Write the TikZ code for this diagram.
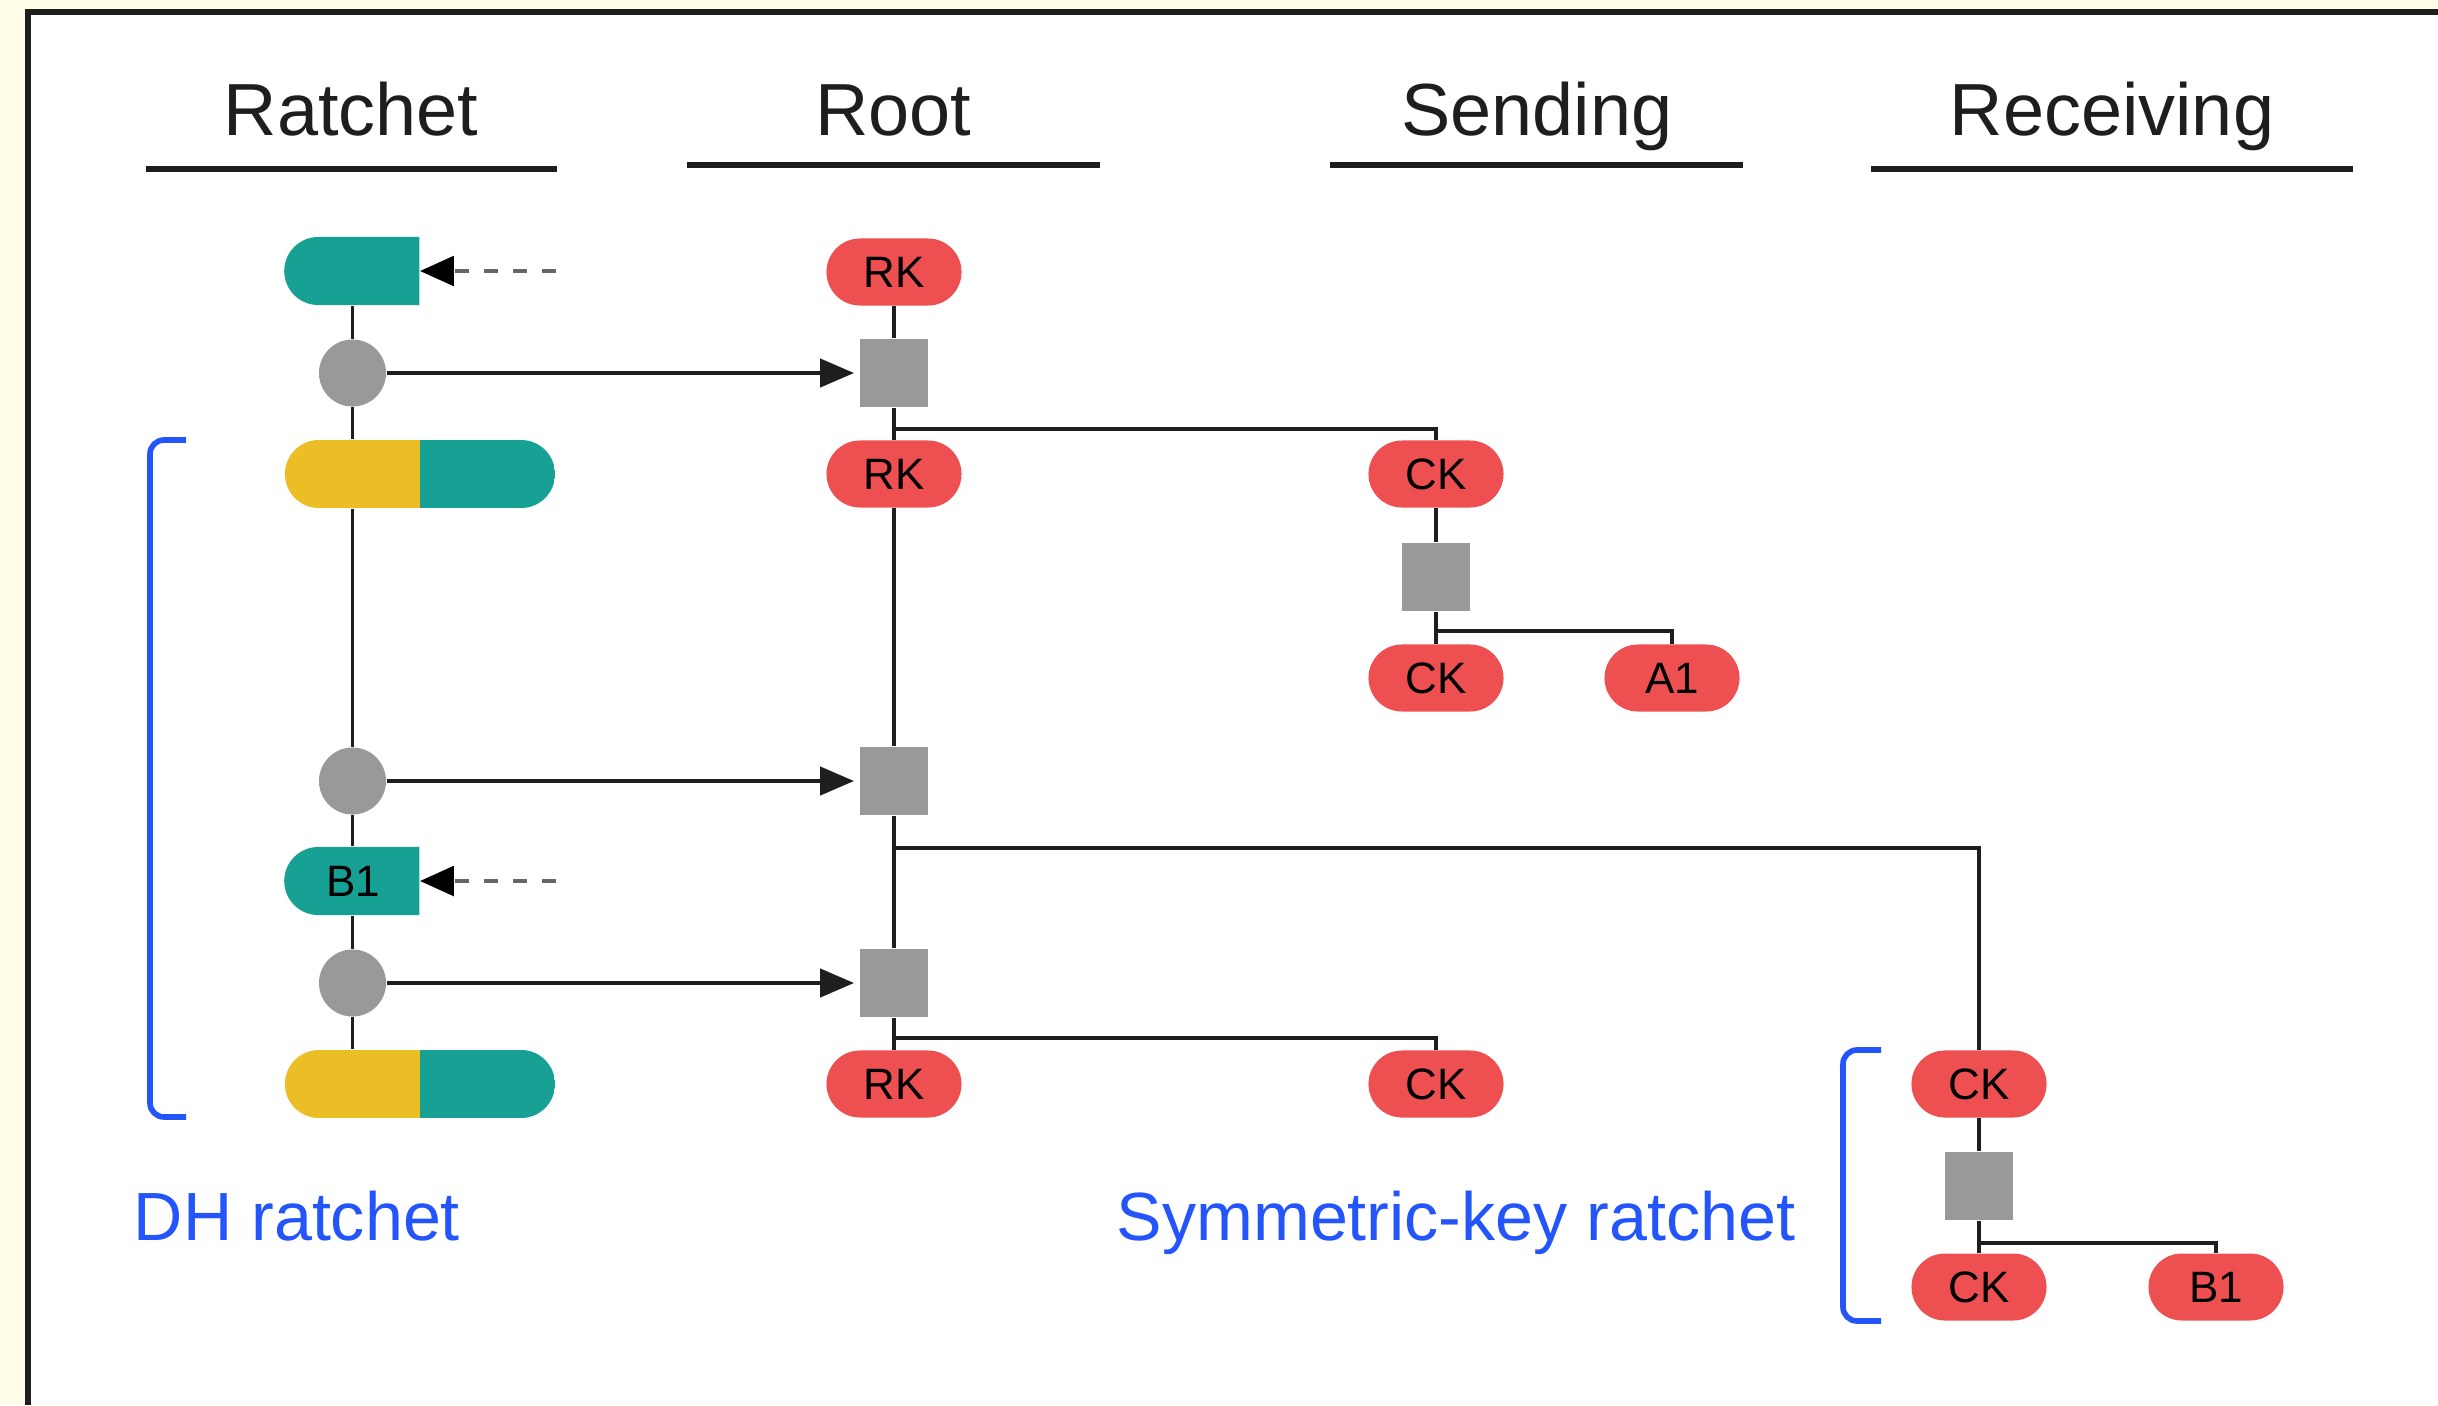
\documentclass[tikz,border=0pt]{standalone}
\usepackage{fontspec}
\setmainfont{Liberation Sans}
\usetikzlibrary{shapes.misc,arrows.meta}

\definecolor{tealk}{RGB}{22,161,148}
\definecolor{yellowk}{RGB}{235,190,38}
\definecolor{redk}{RGB}{238,80,82}
\definecolor{greyk}{RGB}{153,153,153}
\definecolor{bluek}{RGB}{35,85,250}
\definecolor{creamk}{RGB}{255,253,232}
\definecolor{inkk}{RGB}{30,30,30}

\begin{document}
\begin{tikzpicture}[x=0.01cm,y=-0.01cm,
  headfont/.style={font=\fontsize{21}{25}\selectfont},
  head/.style={headfont, text=inkk, inner sep=0pt, anchor=base},
  rule/.style={line width=1.7pt, draw=inkk},
  note/.style={font=\fontsize{19.4}{23}\selectfont, text=bluek, inner sep=0pt, anchor=base},
  keypill/.style={rounded rectangle, fill=redk, minimum width=1.35cm,
    minimum height=0.67cm, inner sep=0pt, text=black,
    font=\fontsize{12.5}{15}\selectfont},
  halfpill/.style={rounded rectangle, rounded rectangle east arc=none,
    fill=tealk, minimum width=1.35cm, minimum height=0.68cm, inner sep=0pt,
    text=black, font=\fontsize{12.5}{15}\selectfont, anchor=east},
  duopill/.style={rounded rectangle, minimum width=2.7cm, minimum height=0.68cm,
    inner sep=0pt,
    path picture={
      \fill[yellowk] (path picture bounding box.south west) rectangle (path picture bounding box.north);
      \fill[tealk] (path picture bounding box.south) rectangle (path picture bounding box.north east);}},
  dhstep/.style={circle, fill=greyk, minimum size=0.67cm, inner sep=0pt},
  kdfbox/.style={rectangle, fill=greyk, minimum size=0.68cm, inner sep=0pt},
  link/.style={line width=1pt, draw=inkk},
  feed/.style={link, -{Triangle[length=9.6pt,width=8pt]}, shorten >=1.5pt},
  pubkey/.style={line width=1pt, draw=black!60, dash pattern=on 4pt off 4.2pt,
    -{Triangle[length=9.6pt,width=8.4pt,color=black]}},
  bracket/.style={line width=1.6pt, draw=bluek, rounded corners=0.14cm}
]
\useasboundingbox (0,0) rectangle (2438,1405);

% page and frame
\fill[creamk] (0,0) rectangle (2438,1405);
\fill[white] (28,12) rectangle (2438,1405);
\draw[line width=1.7pt, draw=inkk] (28,1405) -- (28,12) -- (2438,12);

% column headers
\node[head] (hRatchet) at (351,135) {Ratchet};
\node[head] (hRoot) at (893,135) {Root};
\node[head] (hSend) at (1537,135) {Sending};
\node[head] (hRecv) at (2112,135) {Receiving};
\draw[rule] (146,169) -- (557,169);
\draw[rule] (687,165) -- (1100,165);
\draw[rule] (1330,165) -- (1743,165);
\draw[rule] (1871,169) -- (2353,169);

% ratchet column
\node[halfpill] (t0) at (420,271) {};
\node[dhstep] (c1) at (352.5,373) {};
\node[duopill] (p1) at (420,474) {};
\node[dhstep] (c2) at (352.5,781) {};
\node[halfpill] (b1) at (420,881) {B1};
\node[dhstep] (c3) at (352.5,983) {};
\node[duopill] (p2) at (420,1084) {};

% root chain
\node[keypill] (rk0) at (894,272) {RK};
\node[kdfbox] (s1) at (894,373) {};
\node[keypill] (rk1) at (894,474) {RK};
\node[kdfbox] (s2) at (894,781) {};
\node[kdfbox] (s3) at (894,983) {};
\node[keypill] (rk2) at (894,1084) {RK};

% sending chain
\node[keypill] (ck1) at (1436,474) {CK};
\node[kdfbox] (sq1) at (1436,577) {};
\node[keypill] (ck2) at (1436,678) {CK};
\node[keypill] (a1) at (1672,678) {A1};
\node[keypill] (ck3) at (1436,1084) {CK};

% receiving chain
\node[keypill] (rck1) at (1979,1084) {CK};
\node[kdfbox] (rsq) at (1979,1186) {};
\node[keypill] (rck2) at (1979,1287) {CK};
\node[keypill] (rb1) at (2216,1287) {B1};

% ratchet column links
\draw[link] (c1 |- t0.south) -- (c1.north) (c1.south) -- (c1 |- p1.north);
\draw[link] (c1 |- p1.south) -- (c2.north) (c2.south) -- (c2 |- b1.north);
\draw[link] (c2 |- b1.south) -- (c3.north) (c3.south) -- (c3 |- p2.north);

% incoming public keys
\coordinate (d0) at (556,271);
\coordinate (d1) at (556,881);
\draw[pubkey] (d0) -- (t0.east);
\draw[pubkey] (d1) -- (b1.east);

% DH outputs into the root KDF
\draw[feed] (c1.east) -- (s1.west);
\draw[feed] (c2.east) -- (s2.west);
\draw[feed] (c3.east) -- (s3.west);

% root chain links and branches
\draw[link] (rk0.south) -- (s1.north) (s1.south) -- (rk1.north)
  (rk1.south) -- (s2.north) (s2.south) -- (s3.north) (s3.south) -- (rk2.north);
\coordinate (j1) at (894,429);
\coordinate (j2) at (894,848);
\coordinate (j3) at (894,1038);
\draw[link] (j1) -| (ck1.north);
\draw[link] (j2) -| (rck1.north);
\draw[link] (j3) -| (ck3.north);

% sending chain links
\draw[link] (ck1.south) -- (sq1.north) (sq1.south) -- (ck2.north);
\coordinate (j4) at (1436,631);
\draw[link] (j4) -| (a1.north);

% receiving chain links
\draw[link] (rck1.south) -- (rsq.north) (rsq.south) -- (rck2.north);
\coordinate (j5) at (1979,1243);
\draw[link] (j5) -| (rb1.north);

% brackets and their labels
\draw[bracket] (186,440) -- (150,440) -- (150,1117) -- (186,1117);
\draw[bracket] (1881,1050) -- (1843,1050) -- (1843,1321) -- (1881,1321);
\node[note] (lDH) at (297,1240) {DH ratchet};
\node[note] (lSym) at (1456,1240) {Symmetric-key ratchet};
\end{tikzpicture}
\end{document}
